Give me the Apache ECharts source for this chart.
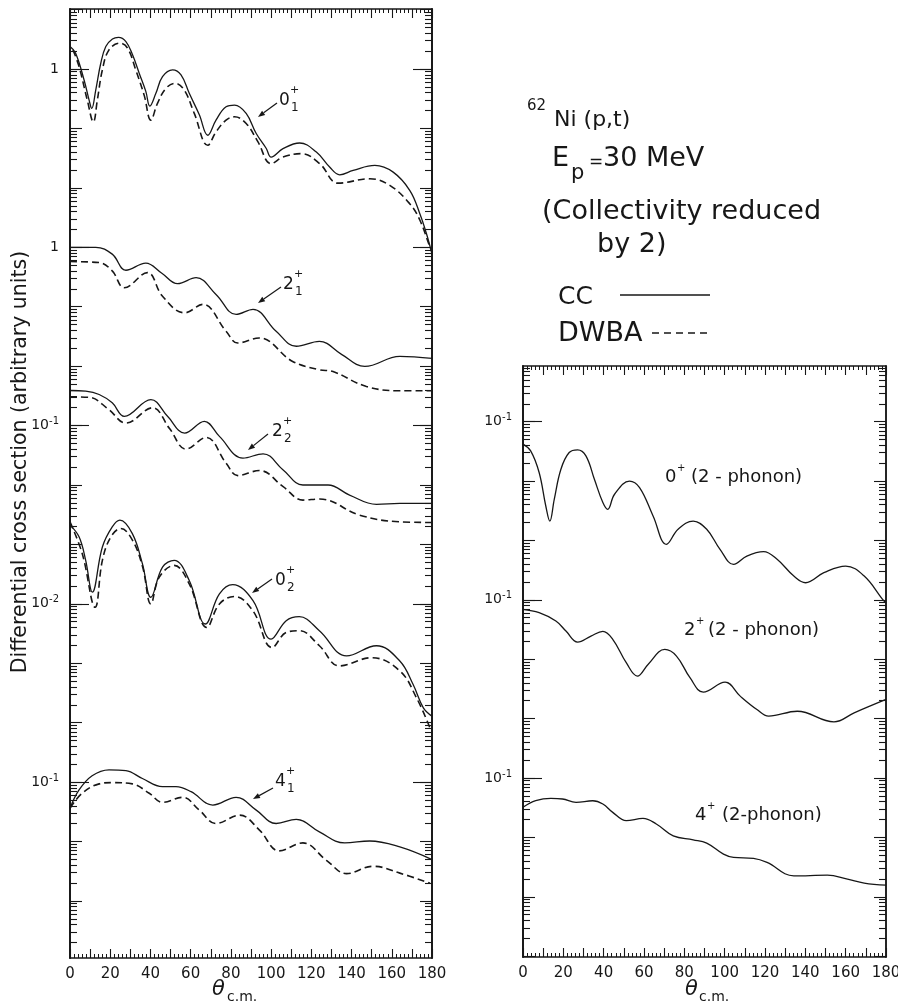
<!DOCTYPE html>
<html>
<head>
<meta charset="utf-8">
<script src="https://cdn.jsdelivr.net/npm/echarts@6/dist/echarts.min.js"></script>
<style>
html, body { margin: 0; padding: 0; background: #ffffff; }
#chart { width: 898px; height: 1003px; }
</style>
</head>
<body>
<div id="chart"></div>
<script>
// [theta c.m. (deg), cross section in the curve's own units as labelled on the axis]
var cc01 = [[0, 2.39], [2.8, 1.85], [7, 0.654], [9.5, 0.300], [10.8, 0.217], [12.8, 0.443], [15.3, 1.25], [17.8, 2.39], [21.1, 3.19], [24.1, 3.40], [27.8, 2.90], [31.1, 1.73], [34.4, 0.85], [37.7, 0.42], [39.7, 0.238], [42.7, 0.390], [46, 0.743], [51, 0.966], [55.2, 0.795], [59.3, 0.390], [64.3, 0.17], [68.5, 0.0768], [72.6, 0.138], [77.6, 0.231], [81.8, 0.247], [87.6, 0.179], [92.6, 0.0821], [97.6, 0.046], [100, 0.033], [105.9, 0.0457], [114.2, 0.0569], [122.5, 0.0401], [129.1, 0.0224], [134.1, 0.0166], [140.8, 0.0197], [151.6, 0.0239], [160.7, 0.0184], [169, 0.00902], [174, 0.00364], [177.3, 0.00167], [180, 0.000767]]
var dw01 = [[1.5, 2.1], [4.5, 1.10], [8.6, 0.300], [11.6, 0.129], [13.6, 0.300], [16.1, 0.966], [19.4, 2.10], [24.8, 2.73], [28.6, 2.25], [32.7, 0.966], [36.9, 0.36], [40.2, 0.138], [43.5, 0.264], [47.7, 0.473], [52.4, 0.575], [56.8, 0.443], [61.8, 0.179], [68.5, 0.052], [72.6, 0.0873], [77.6, 0.138], [81.8, 0.157], [87.6, 0.121], [93.4, 0.06], [100, 0.0255], [105.9, 0.033], [115, 0.0377], [124.2, 0.0255], [133.3, 0.012], [149.1, 0.0142], [159, 0.011], [169, 0.00537], [174, 0.00285], [179, 0.00101], [180, 0.00085]]

var cc21 = [[0, 1.0], [12.8, 1.0], [21, 0.767], [27.8, 0.411], [37.7, 0.541], [45.5, 0.37], [53.5, 0.244], [62.7, 0.308], [72.6, 0.161], [82.6, 0.0741], [91, 0.0901], [102.5, 0.0387], [112.5, 0.0216], [124, 0.0262], [135, 0.0158], [146.6, 0.0099], [164, 0.0146], [180, 0.0135]]
var dw21 = [[0, 0.575], [14.5, 0.553], [21, 0.40], [27, 0.209], [38.5, 0.375], [46, 0.15], [57, 0.0789], [66, 0.1094], [77.6, 0.0387], [83.4, 0.0245], [94, 0.0298], [110.7, 0.012], [124, 0.0087], [130.8, 0.0081], [147.4, 0.00455], [164, 0.00385], [180, 0.00385]]

var cc22 = [[0, 0.389], [7.8, 0.379], [14.5, 0.333], [21, 0.241], [27, 0.143], [40.2, 0.274], [48.5, 0.143], [57, 0.0748], [66.8, 0.118], [74.3, 0.0657], [86, 0.0283], [96, 0.0335], [106, 0.0179], [115.8, 0.0100], [128.3, 0.0100], [139, 0.00677], [152.4, 0.00472], [164, 0.0049], [180, 0.0049]]
var dw22 = [[0, 0.305], [9.5, 0.299], [19, 0.19], [27.8, 0.110], [41, 0.199], [49.5, 0.089], [57.7, 0.0402], [67.7, 0.0632], [77.6, 0.0233], [83.4, 0.0144], [94.2, 0.0175], [106, 0.00936], [115.8, 0.00557], [124.2, 0.0058], [144, 0.00311], [164, 0.0024], [180, 0.00234]]

var cc02 = [[0, 0.211], [4.5, 0.134], [7.8, 0.0539], [11.1, 0.0157], [16.1, 0.0905], [21, 0.197], [24.8, 0.256], [31, 0.152], [36, 0.0474], [40.2, 0.0129], [46, 0.0415], [51.8, 0.0539], [59.3, 0.0247], [67.3, 0.00458], [74.3, 0.0147], [80.9, 0.021], [91, 0.0113], [100, 0.00255], [107.5, 0.00521], [114, 0.00608], [124, 0.00353], [137.5, 0.00133], [152.4, 0.00197], [164, 0.00109], [170.5, 0.000447], [175.7, 0.000178], [180, 0.000129]]
var dw02 = [[0, 0.239], [6.1, 0.0699], [12.5, 0.00875], [16.1, 0.0539], [20.3, 0.1335], [25.3, 0.185], [31.1, 0.117], [36.1, 0.042], [40.2, 0.00997], [44.4, 0.0281], [51.8, 0.0443], [59.3, 0.0217], [68, 0.004], [74.3, 0.00997], [81.8, 0.0133], [90.9, 0.00768], [100.5, 0.00184], [107.5, 0.0033], [114, 0.00353], [124, 0.00197], [134, 0.000902], [150, 0.00124], [164, 0.000742], [172.3, 0.000262], [179, 0.0000815]]

var cc41 = [[0, 0.0362], [4.5, 0.0737], [11, 0.128], [19.4, 0.161], [27.8, 0.156], [36, 0.115], [46, 0.084], [52.7, 0.084], [60.2, 0.069], [71, 0.0411], [82.6, 0.0555], [92.6, 0.0338], [102.5, 0.0201], [112.5, 0.0236], [124, 0.0145], [136.6, 0.00948], [149, 0.0102], [164, 0.00811], [180, 0.00497]]
var dw41 = [[0, 0.0362], [6, 0.0649], [14.5, 0.0933], [21, 0.0981], [31, 0.0933], [39.4, 0.0649], [46, 0.0457], [56, 0.0555], [64.3, 0.0338], [72.6, 0.0201], [84.3, 0.0278], [94.2, 0.0156], [104, 0.00695], [115.8, 0.00948], [127.5, 0.00483], [137.5, 0.00288], [150.7, 0.00383], [164, 0.00294], [179, 0.00199]]

// right panel, CC only
var cc0ph = [[0, 0.0418], [3.8, 0.0322], [8, 0.0139], [11.3, 0.0038], [13.3, 0.00212], [15.5, 0.00493], [18.8, 0.0158], [22.9, 0.0302], [27.1, 0.0335], [31.2, 0.0265], [35.4, 0.0107], [39.6, 0.00434], [42, 0.00334], [45.4, 0.00599], [52.8, 0.0100], [57.8, 0.00776], [64.5, 0.00258], [71.1, 0.00086], [76.9, 0.00154], [84.4, 0.00212], [91.1, 0.00154], [97.7, 0.000708], [104.4, 0.000395], [111, 0.000546], [119.3, 0.000647], [126, 0.00048], [134.3, 0.000251], [140.1, 0.000194], [149.2, 0.000286], [160, 0.00037], [169.2, 0.000251], [178.3, 0.000102], [180, 0.0000893]]
var cc2ph = [[0, 0.0692], [8, 0.0608], [16.3, 0.044], [21.3, 0.0298], [27.1, 0.0194], [33.7, 0.0245], [39.6, 0.0294], [44.5, 0.0216], [51.2, 0.00873], [56.7, 0.00519], [62, 0.00817], [70.3, 0.0146], [76.1, 0.0113], [82.8, 0.00488], [89.4, 0.00279], [100.2, 0.00411], [107.7, 0.00239], [116, 0.00142], [121.8, 0.0011], [136, 0.00133], [154.2, 0.000883], [164.2, 0.00125], [180, 0.0021]]
var cc4ph = [[0, 0.0321], [6.3, 0.0414], [13.8, 0.0454], [19.6, 0.0443], [26.3, 0.0389], [34.6, 0.0414], [39.6, 0.0365], [44.5, 0.0264], [51.2, 0.0191], [59.5, 0.0209], [66.1, 0.0168], [74.5, 0.0106], [84.4, 0.00912], [91.1, 0.00802], [99.4, 0.00523], [104.4, 0.0046], [114.3, 0.00443], [121, 0.00379], [134.3, 0.00225], [150.9, 0.00231], [160.9, 0.00198], [169.2, 0.0017], [180, 0.00157]]

// every curve is shifted down on the common log axis by this factor
var leftShift = [1, 1e-3, 1e-5, 1e-7, 1e-11]
var rightShift = [1, 1e-3, 1e-6]

// tick labels: exponent of the decade on the common axis -> text shown
var leftDecadeLabels = { '0': '1', '-3': '1', '-6': '10|-1', '-9': '10|-2', '-12': '10|-1' }
var rightDecadeLabels = { '-1': '10|-1', '-4': '10|-1', '-7': '10|-1' }
var xTickLabels = [0, 20, 40, 60, 80, 100, 120, 140, 160, 180]

var ink = '#171717'
var font = 'DejaVu Sans'
var leftMin = Math.pow(10, -14.96), leftMax = Math.pow(10, 1.01)
var rightMin = Math.pow(10, -10.014), rightMax = Math.pow(10, -0.063)

function decades(min, max) {
  var a = []
  for (var k = -16; k <= 2; k++) {
    var v = Math.pow(10, k)
    if (v >= min && v <= max) a.push(v)
  }
  return a
}
function minors(min, max) {
  var a = []
  for (var k = -16; k <= 2; k++) {
    for (var m = 2; m <= 9; m++) {
      var v = m * Math.pow(10, k)
      if (v >= min && v <= max) a.push(v)
    }
  }
  return a
}
function labelled(map) {
  return Object.keys(map).map(function (k) { return Math.pow(10, Number(k)) })
}

function xAx(gi, pos, labels) {
  return {
    type: 'value', gridIndex: gi, position: pos, min: 0, max: 180, interval: 10,
    axisLine: { show: true, onZero: false, lineStyle: { color: ink, width: 1.5 } },
    axisTick: { show: true, inside: true, length: 9, lineStyle: { color: ink, width: 1.1 } },
    minorTick: { show: true, splitNumber: 5, length: 4, lineStyle: { color: ink, width: 1 } },
    splitLine: { show: false },
    axisLabel: labels ? {
      show: true, customValues: xTickLabels, margin: 9, fontSize: 15, fontFamily: font, color: ink,
      formatter: function (v) { return String(v) }
    } : { show: false }
  }
}

function yAx(gi, pos, min, max, ticks, len, map) {
  var ax = {
    type: 'log', logBase: 10, gridIndex: gi, position: pos, min: min, max: max,
    axisLine: { show: true, lineStyle: { color: ink, width: 1.5 } },
    axisTick: { show: true, inside: true, length: len, customValues: ticks, lineStyle: { color: ink, width: 1.1 } },
    minorTick: { show: false },
    splitLine: { show: false },
    axisLabel: { show: false }
  }
  if (map) {
    ax.axisLabel = {
      show: true, customValues: labelled(map), margin: 11, color: ink, fontFamily: font,
      formatter: function (v) {
        var s = map[String(Math.round(Math.log10(v)))]
        if (!s) return ''
        var p = s.split('|')
        return p.length > 1 ? '{a|' + p[0] + '}{b|' + p[1] + '}' : '{a|' + s + '}'
      },
      rich: {
        a: { fontSize: 14, fontFamily: font, color: ink, lineHeight: 18 },
        b: { fontSize: 10, fontFamily: font, color: ink, verticalAlign: 'top' }
      }
    }
  }
  return ax
}

function curve(data, shift, xi, yi, dashed) {
  return {
    type: 'line', xAxisIndex: xi, yAxisIndex: yi,
    data: data.map(function (p) { return [p[0], p[1] * shift] }),
    symbol: 'none', showSymbol: false, smooth: 0.4, silent: true, z: 3,
    lineStyle: dashed ? { color: ink, width: 1.6, type: [7, 4] } : { color: ink, width: 1.3 }
  }
}

function txt(x, y, s, size, extra) {
  var st = { text: s, fontSize: size, fontFamily: font, fill: ink, align: 'left', verticalAlign: 'middle' }
  for (var k in (extra || {})) st[k] = extra[k]
  return { type: 'text', x: x, y: y, silent: true, style: st }
}
function arrow(x1, y1, x2, y2) {
  var a = Math.atan2(y2 - y1, x2 - x1), L = 7, W = 2.6
  var bx = x2 - L * Math.cos(a), by = y2 - L * Math.sin(a)
  var px = -Math.sin(a) * W, py = Math.cos(a) * W
  return [
    { type: 'line', silent: true, shape: { x1: x1, y1: y1, x2: bx, y2: by }, style: { stroke: ink, lineWidth: 1.2 } },
    { type: 'polygon', silent: true, shape: { points: [[x2, y2], [bx + px, by + py], [bx - px, by - py]] }, style: { fill: ink } }
  ]
}
// state label like 0 with + above and subscript index below
function state(x, y, base, sub) {
  return [txt(x, y, base, 17), txt(x + 11, y - 11, '+', 11), txt(x + 12, y + 7, sub, 12)]
}

var chart = echarts.init(document.getElementById('chart'), null, { renderer: 'canvas' })

var yTitle = txt(21, 462, 'Differential cross section (arbitrary units)', 20.5, { align: 'center' })
yTitle.rotation = Math.PI / 2

var graphics = []
  .concat(state(279, 101, '0', '1'), arrow(277, 103, 258, 117))
  .concat(state(283, 285, '2', '1'), arrow(281, 287, 258, 303))
  .concat(state(272, 432, '2', '2'), arrow(268, 434, 248, 450))
  .concat(state(275, 581, '0', '2'), arrow(272, 579, 252, 593))
  .concat(state(275, 782, '4', '1'), arrow(273, 788, 253, 799))
  .concat([
    yTitle,
    txt(212, 990, 'θ', 21, { fontStyle: 'italic' }),
    txt(227, 997, 'c.m.', 14),
    txt(685, 990, 'θ', 21, { fontStyle: 'italic' }),
    txt(699, 997, 'c.m.', 14),

    txt(527, 106, '62', 15),
    txt(554, 120, 'Ni (p,t)', 22),
    txt(552, 159, 'E', 27),
    txt(571, 174, 'p', 21),
    txt(589, 163, '=', 17),
    txt(603, 159, '30 MeV', 27),
    txt(542, 212, '(Collectivity reduced', 27),
    txt(597, 245, 'by 2)', 27),
    txt(558, 297, 'CC', 25),
    { type: 'line', silent: true, shape: { x1: 620, y1: 295, x2: 710, y2: 295 }, style: { stroke: ink, lineWidth: 1.4 } },
    txt(558, 334, 'DWBA', 27),
    { type: 'line', silent: true, shape: { x1: 652, y1: 333, x2: 709, y2: 333 }, style: { stroke: ink, lineWidth: 1.4, lineDash: [7, 5] } },

    txt(665, 477, '0', 18), txt(677, 468, '+', 10), txt(691, 477, '(2 - phonon)', 18),
    txt(684, 630, '2', 18), txt(696, 621, '+', 10), txt(708, 630, '(2 - phonon)', 18),
    txt(695, 815, '4', 18), txt(707, 806, '+', 10), txt(722, 815, '(2-phonon)', 18)
  ])

var option = {
  animation: false,
  backgroundColor: '#ffffff',
  grid: [
    { left: 70, top: 9, width: 362, height: 949, containLabel: false, outerBoundsMode: 'none' },
    { left: 523, top: 366, width: 363, height: 591, containLabel: false, outerBoundsMode: 'none' }
  ],
  xAxis: [
    xAx(0, 'bottom', true), xAx(0, 'top', false),
    xAx(1, 'bottom', true), xAx(1, 'top', false)
  ],
  yAxis: [
    yAx(0, 'left', leftMin, leftMax, decades(leftMin, leftMax), 12, leftDecadeLabels),
    yAx(0, 'left', leftMin, leftMax, minors(leftMin, leftMax), 7),
    yAx(0, 'left', leftMin, leftMax, labelled(leftDecadeLabels), 19),
    yAx(0, 'right', leftMin, leftMax, decades(leftMin, leftMax), 12),
    yAx(0, 'right', leftMin, leftMax, minors(leftMin, leftMax), 7),
    yAx(0, 'right', leftMin, leftMax, labelled(leftDecadeLabels), 19),
    yAx(1, 'left', rightMin, rightMax, decades(rightMin, rightMax), 12, rightDecadeLabels),
    yAx(1, 'left', rightMin, rightMax, minors(rightMin, rightMax), 7),
    yAx(1, 'left', rightMin, rightMax, labelled(rightDecadeLabels), 19),
    yAx(1, 'right', rightMin, rightMax, decades(rightMin, rightMax), 12),
    yAx(1, 'right', rightMin, rightMax, minors(rightMin, rightMax), 7)
  ],
  series: [
    curve(cc01, leftShift[0], 0, 0, false), curve(dw01, leftShift[0], 0, 0, true),
    curve(cc21, leftShift[1], 0, 0, false), curve(dw21, leftShift[1], 0, 0, true),
    curve(cc22, leftShift[2], 0, 0, false), curve(dw22, leftShift[2], 0, 0, true),
    curve(cc02, leftShift[3], 0, 0, false), curve(dw02, leftShift[3], 0, 0, true),
    curve(cc41, leftShift[4], 0, 0, false), curve(dw41, leftShift[4], 0, 0, true),
    curve(cc0ph, rightShift[0], 2, 6, false),
    curve(cc2ph, rightShift[1], 2, 6, false),
    curve(cc4ph, rightShift[2], 2, 6, false)
  ],
  graphic: graphics
}
chart.setOption(option)
</script>
</body>
</html>
